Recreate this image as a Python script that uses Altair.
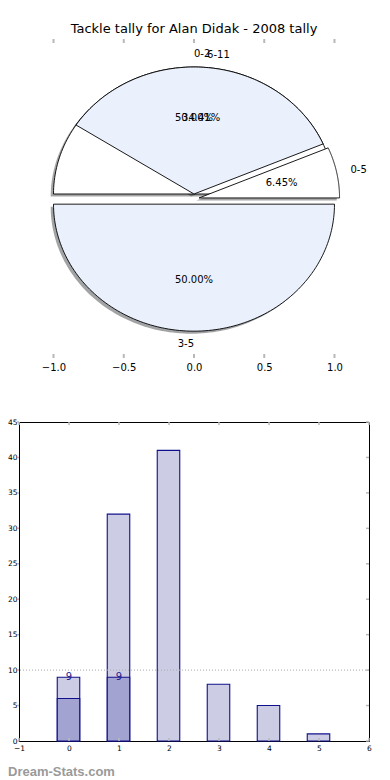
import altair as alt
import pandas as pd

# ---------------- data ----------------
TITLE = "Tackle tally for Alan Didak - 2008 tally"
PIE_A_LABELS = ["0-2", "3-5"]
PIE_A_FRACS = [0.5, 0.5]
PIE_B_LABELS = ["0-5", "6-11"]
PIE_B_FRACS = [0.0645, 0.3441]
PIE_TICKS = [-1.0, -0.5, 0.0, 0.5, 1.0]

BAR_CATS = [0, 1, 2, 3, 4, 5]
BAR_TOTALS = [9, 32, 41, 8, 5, 1]
SUB_CATS = [0, 1]
SUB_VALUES = [6, 9]
NOTE_CATS = [0, 1]
NOTE_VALUES = [9, 9]
REF_VALUE = [10]
BAR_X_TICKS = [-1, 0, 1, 2, 3, 4, 5, 6]
BAR_Y_TICKS = [0, 5, 10, 15, 20, 25, 30, 35, 40, 45]
WATERMARK = ["Dream-Stats.com"]

# ---------------- style ----------------
WHITE = "#ffffff"
PALE = "#eaf0fc"
A_COLORS = [WHITE, PALE]
B_COLORS = [WHITE, PALE]
A_SHIFT = [(0.0, 0.0), (0.0, -0.08)]
B_SHIFT = [(0.036, -0.031), (0.0, 0.0)]
SHADOW_OFF = -0.02
TICK = "#b8b8b8"
LIGHT = "#ccccE5"
DARK = "#a3a3d1"
EDGE = "#10108c"
NOTE_COLOR = "#22228f"
BAR_L, BAR_R = -0.235, 0.215
W, H = 350, 319
N = 120


def shade(c):
    r, g, b = (int(c[i:i + 2], 16) for i in (1, 3, 5))
    return "#%02x%02x%02x" % (round(0.3 * r), round(0.3 * g), round(0.3 * b))


rows = []
for pie, labels, fracs, colors, shifts in (
    ("A", PIE_A_LABELS, PIE_A_FRACS, A_COLORS, A_SHIFT),
    ("B", PIE_B_LABELS, PIE_B_FRACS, B_COLORS, B_SHIFT),
):
    start = 0.0
    for lab, f, c, (dx, dy) in zip(labels, fracs, colors, shifts):
        rows.append(dict(pie=pie, label=lab, frac=f, start=start, dx=dx, dy=dy,
                         fill=c, shadow=shade(c)))
        start += f
wedges = pd.DataFrame(rows)

XS_PIE = alt.Scale(domain=[-1.2456, 1.2456], nice=False, zero=False)
YS_PIE = alt.Scale(domain=[-1.2913, 1.2205], nice=False, zero=False)
PIE_XAXIS = alt.Axis(values=PIE_TICKS, format=".1f", labelFontSize=10, labelColor="black",
                     ticks=False, domain=False, grid=False, labelPadding=4,
                     labelFlush=False, title=None)


def px(field="px"):
    return alt.X(f"{field}:Q", scale=XS_PIE, axis=PIE_XAXIS)


def py(field="py"):
    return alt.Y(f"{field}:Q", scale=YS_PIE, axis=None)


def outline(ch, sx=0.0, sy=0.0):
    return (ch.transform_calculate(k=f"sequence(0, {N + 2})")
            .transform_flatten(["k"])
            .transform_calculate(ang=f"2*PI*(datum.start + datum.frac*min(datum.k, {N})/{N})")
            .transform_calculate(px=f"datum.dx + ({sx}) + (datum.k <= {N} ? cos(datum.ang) : 0)")
            .transform_calculate(py=f"datum.dy + ({sy}) + (datum.k <= {N} ? sin(datum.ang) : 0)"))


base = alt.Chart(wedges)

shadows = outline(base, SHADOW_OFF, SHADOW_OFF).mark_line(
    interpolate="linear-closed", strokeOpacity=0, fillOpacity=0.5
).encode(x=px(), y=py(), fill=alt.Fill("shadow:N", scale=None),
         detail="label:N", order=alt.Order("k:Q"))


def wedge_layer(p):
    return outline(base.transform_filter(f"datum.pie == '{p}'")).mark_line(
        interpolate="linear-closed", stroke="black", strokeWidth=0.9
    ).encode(x=px(), y=py(), fill=alt.Fill("fill:N", scale=None),
             detail="label:N", order=alt.Order("k:Q"))


mid = base.transform_calculate(mid="2*PI*(datum.start + datum.frac/2)")
pct = mid.transform_calculate(
    px="datum.dx + 0.6*cos(datum.mid)"
).transform_calculate(
    py="datum.dy + 0.6*sin(datum.mid)"
).transform_calculate(
    txt="format(datum.frac, '.2%')"
).mark_text(fontSize=10, color="black", baseline="middle").encode(
    x=px(), y=py(), text="txt:N")

outer = mid.transform_calculate(
    px="datum.dx + 1.1*cos(datum.mid)"
).transform_calculate(
    py="datum.dy + 1.1*sin(datum.mid)"
)
lab_left = outer.transform_filter("datum.px > 0").mark_text(
    align="left", baseline="middle", fontSize=10, color="black"
).encode(x=px(), y=py(), text="label:N")
lab_right = outer.transform_filter("datum.px <= 0").mark_text(
    align="right", baseline="middle", fontSize=10, color="black"
).encode(x=px(), y=py(), text="label:N")

pt = alt.Chart(pd.DataFrame({"t": PIE_TICKS}))
pie_top_ticks = pt.mark_rule(color=TICK, strokeWidth=2).encode(
    x=px("t"), y=alt.value(0), y2=alt.value(4))
pie_bot_ticks = pt.mark_rule(color=TICK, strokeWidth=2).encode(
    x=px("t"), y=alt.value(H), y2=alt.value(H - 4))

top = alt.layer(
    shadows, wedge_layer("A"), wedge_layer("B"), pct, lab_left, lab_right,
    pie_top_ticks, pie_bot_ticks
).properties(
    width=W, height=H,
    title=alt.Title(TITLE, fontSize=13, fontWeight="normal", anchor="middle",
                    baseline="alphabetic", offset=-8, color="black"),
)

# ---------------- bar chart ----------------
XS_BAR = alt.Scale(domain=[-1, 6], nice=False, zero=False)
YS_BAR = alt.Scale(domain=[0, 45], nice=False, zero=False)
BAR_XAXIS = alt.Axis(values=BAR_X_TICKS, format="d", labelFontSize=7.5, labelColor="black",
                     ticks=False, domain=False, grid=False, labelPadding=3.5,
                     labelFlush=False, title=None)
BAR_YAXIS = alt.Axis(values=BAR_Y_TICKS, format="d", labelFontSize=7.5, labelColor="black",
                     ticks=False, domain=False, grid=False, labelPadding=2, title=None)


def bx(field):
    return alt.X(f"{field}:Q", scale=XS_BAR, axis=BAR_XAXIS)


def by(field):
    return alt.Y(f"{field}:Q", scale=YS_BAR, axis=BAR_YAXIS)


def bar_layer(cats, vals, color):
    return alt.Chart(pd.DataFrame({"cat": cats, "v": vals})).transform_calculate(
        x0=f"datum.cat + ({BAR_L})", x1=f"datum.cat + ({BAR_R})", base="0"
    ).mark_bar(fill=color, stroke=EDGE, strokeWidth=1.1).encode(
        x=bx("x0"), x2="x1:Q", y=by("v"), y2="base:Q")


bars = bar_layer(BAR_CATS, BAR_TOTALS, LIGHT)
subs = bar_layer(SUB_CATS, SUB_VALUES, DARK)

ref = alt.Chart(pd.DataFrame({"r": REF_VALUE})).mark_rule(
    color="#aaaaaa", strokeDash=[1, 2], strokeWidth=1
).encode(y=by("r"))

notes = alt.Chart(pd.DataFrame({"cat": NOTE_CATS, "v": NOTE_VALUES})).mark_text(
    fontSize=10, color=NOTE_COLOR, baseline="middle"
).encode(x=bx("cat"), y=by("v"), text=alt.Text("v:Q", format="d"))

xt = alt.Chart(pd.DataFrame({"t": BAR_X_TICKS}))
yt = alt.Chart(pd.DataFrame({"t": BAR_Y_TICKS}))
b_ticks = xt.mark_rule(color=TICK, strokeWidth=1.5).encode(
    x=bx("t"), y=alt.value(H), y2=alt.value(H - 3))
t_ticks = xt.mark_rule(color=TICK, strokeWidth=1.5).encode(
    x=bx("t"), y=alt.value(0), y2=alt.value(3))
r_ticks = yt.mark_rule(color=TICK, strokeWidth=1.5).encode(
    y=by("t"), x=alt.value(W), x2=alt.value(W - 3))
l_ticks = yt.mark_rule(color=TICK, strokeWidth=1.5).encode(
    y=by("t"), x=alt.value(0), x2=alt.value(-2))

mark = alt.Chart(pd.DataFrame({"w": WATERMARK})).mark_text(
    align="left", baseline="alphabetic", font="Liberation Sans", fontWeight="bold",
    fontSize=13, color="#9a9a9a"
).encode(text="w:N", x=alt.value(-11), y=alt.value(354))

bottom = alt.layer(bars, subs, ref, notes, b_ticks, t_ticks, r_ticks, l_ticks, mark).properties(
    width=W, height=H, view=alt.ViewBackground(stroke="black", strokeWidth=1)
)

chart = alt.vconcat(
    top, bottom, spacing=64, bounds="flush",
    padding={"left": -2, "top": 14, "right": 0, "bottom": 0},
).configure(font="DejaVu Sans").configure_view(stroke="transparent")

chart.save("out.html", embed_options={"renderer": "svg", "actions": False})
